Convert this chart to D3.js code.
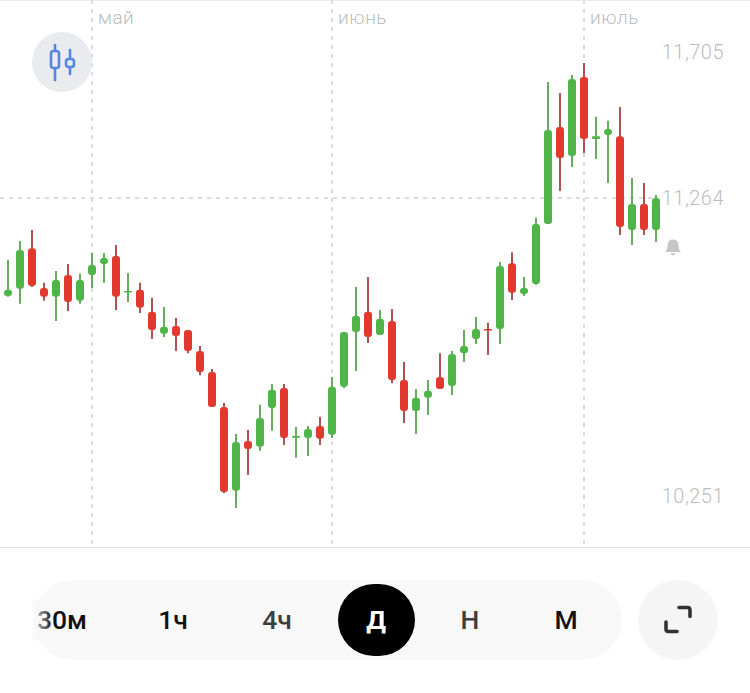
<!DOCTYPE html>
<html lang="ru">
<head>
<meta charset="utf-8">
<style>
html,body{margin:0;padding:0;background:#fff;overflow:hidden}
svg{display:block;font-family:Roboto,"Noto Sans",sans-serif}
</style>
<script src="https://cdn.jsdelivr.net/npm/d3@7"></script>
</head>
<body>
<svg id="chart" width="750" height="693"></svg>
<script>
// Daily candles: open, high, low, close
const opens  = [10944,10967,11100,10970,10941,11012,10928,11012,11048,11074,10957,10964,10892,10820,10846,10833,10764,10695,10581,10307,10470,10451,10578,10643,10483,10480,10519,10490,10647,10826,10892,10816,10862,10669,10568,10611,10679,10650,10757,10803,10836,10836,11051,10950,10983,11179,11496,11401,11659,11457,11470,11466,11159,11244,11159];
const highs  = [11061,11123,11159,10987,11025,11048,11016,11084,11084,11110,11019,10987,10938,10908,10872,10833,10780,10705,10594,10493,10506,10588,10656,10656,10516,10519,10549,10679,10826,10973,11006,10898,10901,10728,10640,10669,10757,10764,10833,10875,10856,11055,11087,11006,11199,11643,11607,11666,11705,11529,11516,11561,11329,11313,11274];
const lows   = [10941,10918,10973,10928,10862,10895,10918,10970,10987,10898,10924,10888,10803,10810,10764,10757,10685,10581,10300,10251,10359,10438,10503,10457,10415,10421,10457,10480,10643,10699,10790,10816,10659,10529,10493,10555,10640,10620,10728,10787,10751,10787,10931,10944,10980,11179,11287,11365,11411,11391,11313,11143,11110,11143,11120];
const closes = [10964,11094,10976,10941,10996,10924,10996,11045,11068,10941,10960,10905,10833,10843,10813,10764,10695,10581,10303,10467,10444,10545,10637,10480,10486,10509,10477,10647,10826,10879,10810,10869,10669,10568,10611,10634,10640,10754,10780,10836,10833,11042,10954,10970,11179,11486,11395,11653,11457,11466,11489,11169,11244,11159,11264];

const monthLabels = ["май","июнь","июль"];
const monthStarts = [7,27,48];
const priceLabels = ["11,705","11,264","10,251"];
const maxPrice = 11705, lastPrice = 11264, minPrice = 10251;
const periods = ["30м","1ч","4ч","Д","Н","М"];
const selectedPeriod = "Д";

const GREEN = "#4fb548", RED = "#e1392e";
const GREEN_WICK = "#5ca955", RED_WICK = "#ad4a45";
const GRID = "#dcdcdc", LABEL = "#c9c9c9";

const x = d3.scaleLinear().domain([0, opens.length - 1]).range([8, 656]);
const y = d3.scaleLinear().domain([minPrice, maxPrice]).range([508, 63]);

const svg = d3.select("#chart");
const defs = svg.append("defs");

// Left edge of the period strip fades out as it scrolls
const fade = defs.append("linearGradient").attr("id","edgeFade");
fade.append("stop").attr("offset",0).attr("stop-color","#f8f8f8").attr("stop-opacity",0.85);
fade.append("stop").attr("offset",1).attr("stop-color","#f8f8f8").attr("stop-opacity",0);

const plotBottom = 547;

// Frame lines
svg.append("line").attr("x1",0).attr("x2",750).attr("y1",0.5).attr("y2",0.5).attr("stroke","#ececec");
svg.append("line").attr("x1",0).attr("x2",750).attr("y1",plotBottom+0.5).attr("y2",plotBottom+0.5).attr("stroke","#e2e2e2");

// Month grid
const months = svg.append("g").selectAll("g").data(monthStarts).join("g");
months.append("line")
  .attr("x1",d=>x(d)).attr("x2",d=>x(d)).attr("y1",0).attr("y2",plotBottom)
  .attr("stroke",GRID).attr("stroke-width",2).attr("stroke-dasharray","4 5");
months.append("text")
  .attr("x",d=>x(d)+6).attr("y",24)
  .attr("font-size",19).attr("font-weight",300).attr("fill","#bdbdbd").attr("letter-spacing",0.5)
  .text((d,i)=>monthLabels[i]);

// Last price guide
svg.append("line")
  .attr("x1",0).attr("x2",x(opens.length-1)).attr("y1",y(lastPrice)).attr("y2",y(lastPrice))
  .attr("stroke",GRID).attr("stroke-width",2).attr("stroke-dasharray","4 5");

// Candles
const candles = svg.append("g").selectAll("g").data(opens.map((o,i)=>i)).join("g");
const isUp = i => closes[i] >= opens[i];
const bodyHeight = i => Math.abs(y(opens[i]) - y(closes[i]));
candles.append("line")
  .attr("x1",i=>x(i)).attr("x2",i=>x(i))
  .attr("y1",i=>y(highs[i])).attr("y2",i=>y(lows[i]))
  .attr("stroke",i=>isUp(i)?GREEN_WICK:RED_WICK).attr("stroke-width",1.9);
candles.append("rect")
  .attr("x",i=>x(i)-4).attr("width",8)
  .attr("y",i=>y(Math.max(opens[i],closes[i])))
  .attr("height",i=>Math.max(1.6,bodyHeight(i)))
  .attr("rx",i=>bodyHeight(i)>3?Math.min(3,bodyHeight(i)/2):0.6)
  .attr("fill",i=>isUp(i)?GREEN:RED);

// Price labels
const priceRows = [[maxPrice,-11],[lastPrice,0],[minPrice,-12]];
svg.append("g").selectAll("text").data(priceRows).join("text")
  .attr("x",724).attr("y",d=>y(d[0])+d[1]+7)
  .attr("text-anchor","end").attr("font-size",20).attr("font-weight",300).attr("fill","#bdbdbd")
  .attr("letter-spacing",0.5)
  .text((d,i)=>priceLabels[i]);

// Alert bell next to the last price
const bell = svg.append("g").attr("transform",`translate(673,${y(lastPrice)+49})`).attr("fill","#c6c6c6");
bell.append("path").attr("d","M-8,5 C-5.5,3 -5.5,0 -5.5,-2 C-5.5,-5.5 -3,-7.5 0,-7.5 C3,-7.5 5.5,-5.5 5.5,-2 C5.5,0 5.5,3 8,5 Z");
bell.append("path").attr("d","M-2.5,6.2 H2.5 A2.5,2 0 0 1 -2.5,6.2 Z");

// Candlestick mode button
const modeBtn = svg.append("g").attr("transform","translate(62,62)");
modeBtn.append("circle").attr("r",30).attr("fill","#e9ebee");
const BLUE = "#5686e0";
modeBtn.append("line").attr("x1",-7).attr("x2",-7).attr("y1",-17).attr("y2",18)
  .attr("stroke",BLUE).attr("stroke-width",2.6).attr("stroke-linecap","round");
modeBtn.append("rect").attr("x",-11).attr("y",-11).attr("width",8).attr("height",17).attr("rx",2.5)
  .attr("fill","#e9ebee").attr("stroke",BLUE).attr("stroke-width",2.6);
modeBtn.append("line").attr("x1",8).attr("x2",8).attr("y1",-12).attr("y2",12)
  .attr("stroke",BLUE).attr("stroke-width",2.6).attr("stroke-linecap","round");
modeBtn.append("rect").attr("x",4).attr("y",-3).attr("width",8).attr("height",8).attr("rx",2.5)
  .attr("fill","#e9ebee").attr("stroke",BLUE).attr("stroke-width",2.6);

// Period selector
svg.append("rect").attr("x",33).attr("y",580).attr("width",589).attr("height",80).attr("rx",40).attr("fill","#f8f8f8");
const periodCenters = [62,173,277,376,470,566];
const periodInk = {"30м":"#111","1ч":"#111","4ч":"#3d3d3d","Д":"#fff","Н":"#3d3d3d","М":"#111"};
svg.append("rect").attr("x",338).attr("y",584).attr("width",77).attr("height",72).attr("rx",36)
  .attr("fill","#000");
svg.append("g").selectAll("text").data(periods).join("text")
  .attr("x",(d,i)=>periodCenters[i]).attr("y",629)
  .attr("text-anchor","middle").attr("font-size",26.5)
  .attr("fill",d=>periodInk[d])
  .attr("font-weight",d=>d===selectedPeriod?700:500)
  .text(d=>d);
svg.append("rect").attr("x",33).attr("y",600).attr("width",20).attr("height",40).attr("fill","url(#edgeFade)");

// Full-screen button
const full = svg.append("g").attr("transform","translate(678,620)");
full.append("circle").attr("r",40).attr("fill","#f5f5f5");
full.append("path").attr("d","M1,-12.5 H9.5 Q12,-12.5 12,-10 V-3.5 M-12,2 V9 Q-12,11.5 -9.5,11.5 H-1")
  .attr("fill","none").attr("stroke","#333").attr("stroke-width",3.6).attr("stroke-linecap","round");
</script>
</body>
</html>
